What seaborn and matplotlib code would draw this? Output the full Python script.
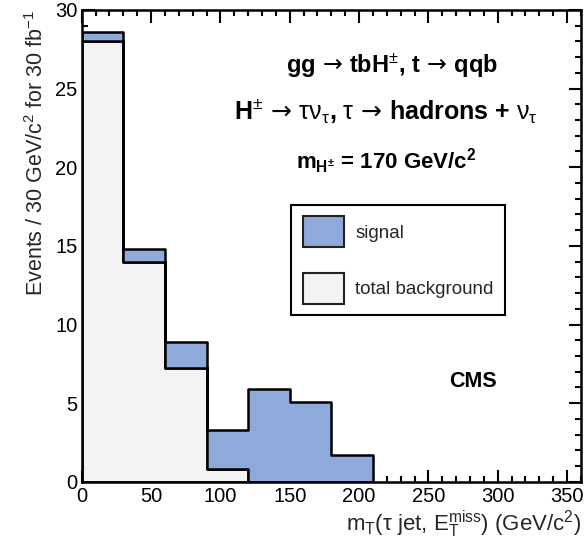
import numpy as np
import pandas as pd
import matplotlib
matplotlib.use("Agg")
import matplotlib.pyplot as plt
import seaborn as sns

# ---- data ----
bin_centers = [15, 45, 75, 105, 135, 165, 195]
background = [28.0, 14.0, 7.25, 0.8, 0.0, 0.0, 0.0]
signal = [0.6, 0.8, 1.62, 2.48, 5.9, 5.05, 1.7]
x_ticks = [0, 50, 100, 150, 200, 250, 300, 350]
y_ticks = [0, 5, 10, 15, 20, 25, 30]
series_names = ["signal", "total background"]

df = pd.DataFrame({
    "mT": bin_centers * 2,
    "events": signal + background,
    "sample": [series_names[0]] * len(bin_centers) + [series_names[1]] * len(bin_centers),
})

sns.set_theme(style="ticks")
plt.rcParams["font.family"] = ["Liberation Sans", "DejaVu Sans"]
plt.rcParams["mathtext.fontset"] = "custom"
plt.rcParams["mathtext.rm"] = "Liberation Sans"
plt.rcParams["mathtext.it"] = "Liberation Sans:italic"
plt.rcParams["mathtext.bf"] = "Liberation Sans:bold"
plt.rcParams["mathtext.cal"] = "DejaVu Sans"
plt.rcParams["mathtext.fallback"] = "cm"

fig = plt.figure(figsize=(5.88, 5.5), dpi=100)
ax = fig.add_axes([0.139, 0.124, 0.849, 0.858])

sns.histplot(
    data=df, x="mT", weights="events", hue="sample",
    hue_order=series_names, multiple="stack", element="step",
    binwidth=30, binrange=(0, 210),
    palette={"signal": "#8eaadb", "total background": "#f3f3f3"},
    alpha=1, edgecolor="black", linewidth=1.8, ax=ax,
)

ax.set_xlim(0, 360)
ax.set_ylim(0, 30)
ax.set_xticks(x_ticks)
ax.set_yticks(y_ticks)
ax.set_xticks(np.arange(0, 361, 10), minor=True)
ax.set_yticks(np.arange(0, 31, 1), minor=True)
ax.tick_params(which="both", direction="in", top=True, right=True,
               width=1.5, colors="black", labelsize=14.5)
ax.tick_params(which="major", length=9)
ax.tick_params(which="minor", length=4.5)
ax.tick_params(axis="x", pad=4)
ax.tick_params(axis="y", pad=3)
for s in ax.spines.values():
    s.set_linewidth(1.8)
    s.set_color("black")

ax.set_xlabel(r"m$_\mathrm{T}$($\mathrm{\tau}$ jet, E$_\mathrm{T}^\mathrm{miss}$) (GeV/c$^2$)",
              fontsize=16, loc="right", labelpad=2)
ax.set_ylabel(r"Events / 30 GeV/c$^2$ for 30 fb$^{-1}$", fontsize=15.5, loc="top", labelpad=5)

arrow = r"$\,\mathcal{\rightarrow}\,$"
tx = dict(transform=ax.transAxes, ha="center", va="center", fontweight="bold", color="black")
ax.text(0.622, 0.882, "gg" + arrow + r"tbH$^{\pm}$, t" + arrow + "qqb", fontsize=17, **tx)
ax.text(0.61, 0.785,
        r"H$^{\pm}$" + arrow + r"$\mathrm{\tau\nu_{\tau}}$, $\mathrm{\tau}$" + arrow
        + r"hadrons + $\mathrm{\nu_{\tau}}$",
        fontsize=18, **tx)
ax.text(0.61, 0.68, r"m$_{\mathbf{H^{\pm}}}$ = 170 GeV/c$^{\mathbf{2}}$", fontsize=16, **tx)
ax.text(0.784, 0.212, "CMS", fontsize=15.5, **tx)

sns.move_legend(ax, loc="upper left", bbox_to_anchor=(0.42, 0.587), title=None,
                fontsize=13.5, frameon=True, fancybox=False, framealpha=1,
                edgecolor="black", handlelength=2.2, handleheight=2.2,
                labelspacing=1.35, borderpad=0.6, handletextpad=0.6,
                borderaxespad=0)
leg = ax.get_legend()
leg.get_frame().set_linewidth(1.5)
for h in leg.legend_handles:
    h.set_edgecolor("#222222")
    h.set_linewidth(1.5)

fig.savefig("out.png", dpi=100)
